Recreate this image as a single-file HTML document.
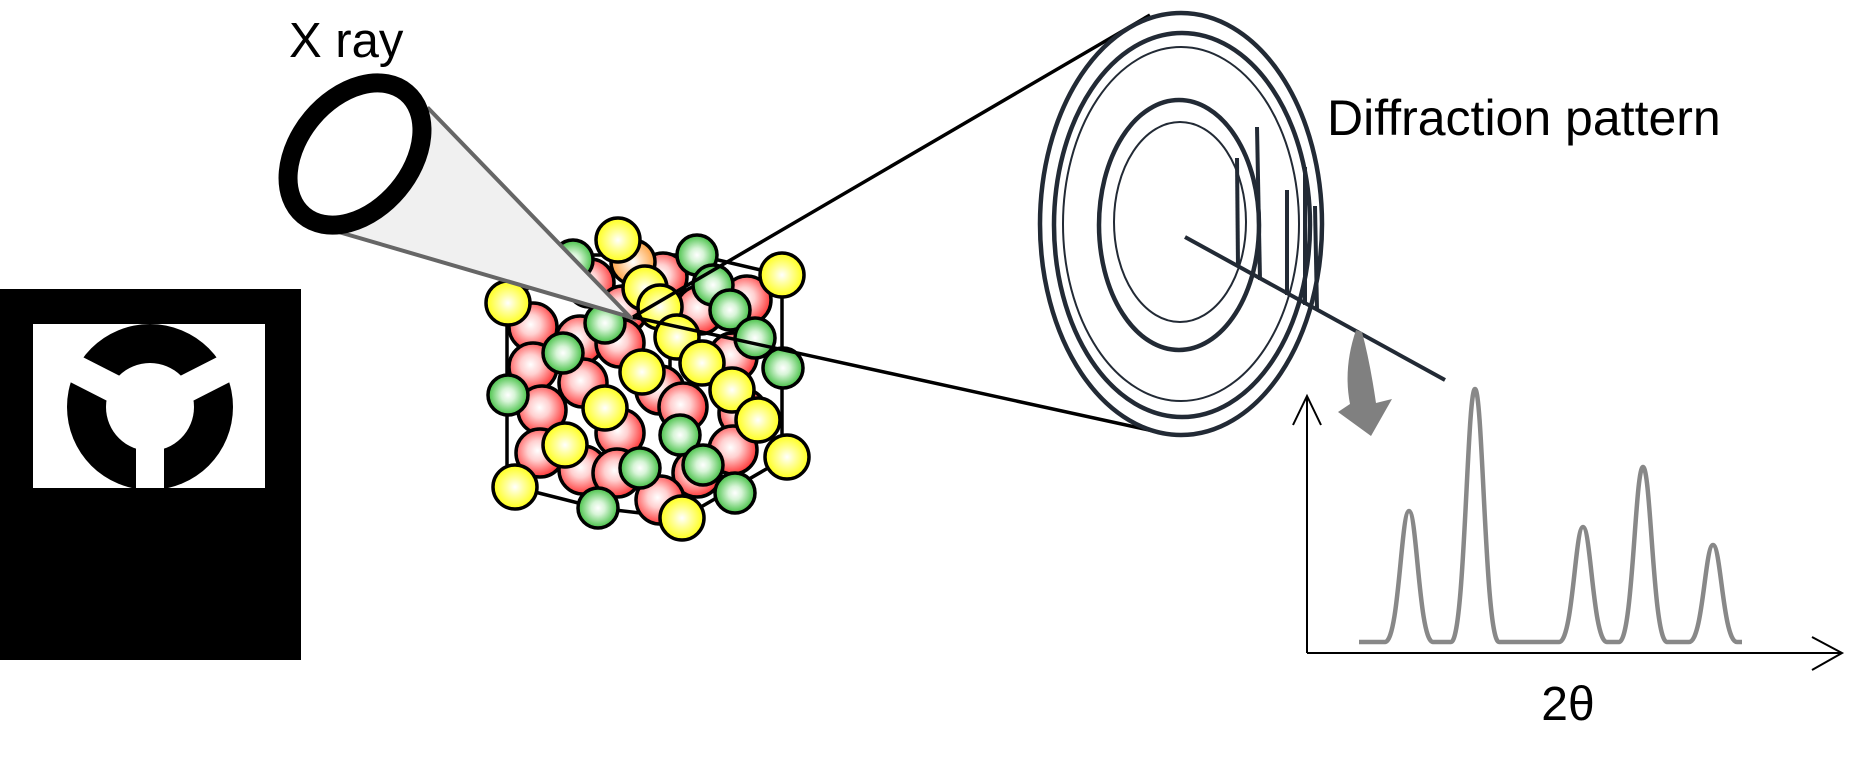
<!DOCTYPE html>
<html><head><meta charset="utf-8"><style>
html,body{margin:0;padding:0;background:#fff;}
svg{display:block;}
text{font-family:"Liberation Sans",Arial,sans-serif;fill:#000;}
</style></head><body>
<svg width="1865" height="761" viewBox="0 0 1865 761" xmlns="http://www.w3.org/2000/svg">
<defs>
<radialGradient id="gr" cx="0.45" cy="0.45" r="0.6"><stop offset="0" stop-color="#fff"/><stop offset="0.35" stop-color="#ffd0d0"/><stop offset="1" stop-color="#f22"/></radialGradient>
<radialGradient id="gg" cx="0.5" cy="0.5" r="0.55"><stop offset="0" stop-color="#fff"/><stop offset="0.3" stop-color="#d8f5d8"/><stop offset="1" stop-color="#2db82d"/></radialGradient>
<radialGradient id="gy" cx="0.5" cy="0.5" r="0.55"><stop offset="0" stop-color="#fff"/><stop offset="0.35" stop-color="#ffffa0"/><stop offset="1" stop-color="#ffff00"/></radialGradient>
<radialGradient id="go" cx="0.5" cy="0.5" r="0.55"><stop offset="0" stop-color="#fff"/><stop offset="1" stop-color="#ff9a30"/></radialGradient>
<clipPath id="wr"><rect x="33" y="324" width="232" height="164"/></clipPath>
</defs>

<rect x="0" y="289" width="301" height="371" fill="#000"/>
<rect x="33" y="324" width="232" height="164" fill="#fff"/>
<g clip-path="url(#wr)">
<circle cx="150" cy="407" r="83" fill="#000"/>
<circle cx="150" cy="407" r="44" fill="#fff"/>
<rect x="136" y="407" width="28" height="90" fill="#fff"/>
<rect x="150" y="393" width="110" height="28" fill="#fff" transform="rotate(-27 150 407)"/>
<rect x="40" y="393" width="110" height="28" fill="#fff" transform="rotate(27 150 407)"/>
</g>

<text x="289" y="57" font-size="49">X ray</text>

<g stroke="#000" stroke-width="3.5" fill="none">
<line x1="507" y1="303" x2="507" y2="487"/>
<line x1="782" y1="275" x2="782" y2="457"/>
<line x1="670" y1="330" x2="670" y2="410"/>
<polyline points="515,487 598,508 682,518 787,457"/>
<polyline points="508,303 573,255 697,255 782,275"/>
</g>
<g stroke="#000" stroke-width="3.5" fill="url(#gr)">
<circle cx="590" cy="283" r="24"/><circle cx="663" cy="277" r="24"/><circle cx="700" cy="310" r="24"/><circle cx="747" cy="300" r="24"/>
<circle cx="623" cy="310" r="24"/><circle cx="533" cy="327" r="24"/><circle cx="580" cy="340" r="24"/><circle cx="620" cy="343" r="24"/>
<circle cx="733" cy="357" r="24"/><circle cx="533" cy="367" r="24"/><circle cx="583" cy="383" r="24"/><circle cx="660" cy="390" r="24"/>
<circle cx="683" cy="407" r="24"/><circle cx="743" cy="413" r="24"/><circle cx="542" cy="410" r="24"/><circle cx="620" cy="433" r="24"/>
<circle cx="733" cy="450" r="24"/><circle cx="540" cy="453" r="24"/><circle cx="583" cy="470" r="24"/><circle cx="617" cy="473" r="24"/>
<circle cx="697" cy="473" r="24"/><circle cx="660" cy="500" r="24"/>
<circle cx="633" cy="262" r="22" fill="url(#go)"/>
</g>
<g stroke="#000" stroke-width="3.5">
<circle cx="573" cy="260" r="20" fill="url(#gg)"/>
<circle cx="697" cy="255" r="20" fill="url(#gg)"/>
<circle cx="618" cy="240" r="22" fill="url(#gy)"/>
<circle cx="713" cy="285" r="20" fill="url(#gg)"/>
<circle cx="645" cy="288" r="22" fill="url(#gy)"/>
<circle cx="782" cy="275" r="22" fill="url(#gy)"/>
<circle cx="660" cy="307" r="22" fill="url(#gy)"/>
<circle cx="730" cy="310" r="20" fill="url(#gg)"/>
<circle cx="508" cy="303" r="22" fill="url(#gy)"/>
<circle cx="605" cy="323" r="20" fill="url(#gg)"/>
<circle cx="755" cy="338" r="20" fill="url(#gg)"/>
<circle cx="677" cy="337" r="22" fill="url(#gy)"/>
<circle cx="563" cy="353" r="20" fill="url(#gg)"/>
<circle cx="702" cy="363" r="22" fill="url(#gy)"/>
<circle cx="783" cy="368" r="20" fill="url(#gg)"/>
<circle cx="642" cy="372" r="22" fill="url(#gy)"/>
<circle cx="732" cy="390" r="22" fill="url(#gy)"/>
<circle cx="508" cy="395" r="20" fill="url(#gg)"/>
<circle cx="605" cy="408" r="22" fill="url(#gy)"/>
<circle cx="758" cy="420" r="22" fill="url(#gy)"/>
<circle cx="680" cy="435" r="20" fill="url(#gg)"/>
<circle cx="565" cy="445" r="22" fill="url(#gy)"/>
<circle cx="787" cy="457" r="22" fill="url(#gy)"/>
<circle cx="703" cy="465" r="20" fill="url(#gg)"/>
<circle cx="640" cy="468" r="20" fill="url(#gg)"/>
<circle cx="515" cy="487" r="22" fill="url(#gy)"/>
<circle cx="735" cy="493" r="20" fill="url(#gg)"/>
<circle cx="598" cy="508" r="20" fill="url(#gg)"/>
<circle cx="682" cy="518" r="22" fill="url(#gy)"/>
</g>

<polygon points="429,109 630,317 332,230" fill="#f0f0f0" stroke="#666" stroke-width="4"/>
<ellipse cx="355" cy="154" rx="80" ry="56" transform="rotate(-50 355 154)" fill="#fff" stroke="#000" stroke-width="19"/>

<g stroke="#000" stroke-width="3.5" fill="none">
<line x1="633" y1="317" x2="1150" y2="15"/>
<line x1="633" y1="317" x2="1167" y2="434"/>
</g>

<g stroke="#222a35" fill="none">
<ellipse cx="1181" cy="224" rx="141" ry="211" stroke-width="4.5"/>
<ellipse cx="1182" cy="225" rx="128" ry="192" stroke-width="4.5"/>
<ellipse cx="1181" cy="224" rx="118" ry="177" stroke-width="2"/>
<ellipse cx="1179" cy="225" rx="80" ry="125" stroke-width="4.5"/>
<ellipse cx="1180" cy="222" rx="66" ry="100" stroke-width="2"/>
<line x1="1185" y1="237" x2="1445" y2="380" stroke-width="4"/>
<g stroke-width="4">
<line x1="1237" y1="158" x2="1238" y2="267"/>
<line x1="1257" y1="127" x2="1260" y2="280"/>
<line x1="1287" y1="190" x2="1287" y2="295"/>
<line x1="1305" y1="167" x2="1305" y2="305"/>
<line x1="1315" y1="206" x2="1317" y2="310"/>
</g>
</g>

<text x="1327" y="135" font-size="50">Diffraction pattern</text>

<path d="M1356,330 Q1343,368 1350,404 L1338,412 L1371,436 L1392,399 L1376,403 Q1370,362 1362,332 Z" fill="#808080"/>

<g stroke="#000" stroke-width="2" fill="none">
<line x1="1307" y1="396" x2="1307" y2="653"/>
<line x1="1307" y1="653" x2="1842" y2="653"/>
<polyline points="1293,425 1307,396 1321,425"/>
<polyline points="1812,637 1842,653 1812,670"/>
</g>
<path fill="none" stroke="#888" stroke-width="4.5" d="
M1359,642 L1385,642 C1399,642 1401,511 1409,511 C1417,511 1419,642 1433,642
L1451,642 C1465,642 1467,389 1475,389 C1483,389 1485,642 1499,642
L1559,642 C1573,642 1575,527 1583,527 C1591,527 1593,642 1607,642
L1619,642 C1633,642 1635,467 1643,467 C1651,467 1653,642 1667,642
L1689,642 C1703,642 1705,545 1713,545 C1721,545 1723,642 1737,642 L1742,642"/>
<text x="1568" y="720" font-size="48" text-anchor="middle">2θ</text>
</svg>
</body></html>
